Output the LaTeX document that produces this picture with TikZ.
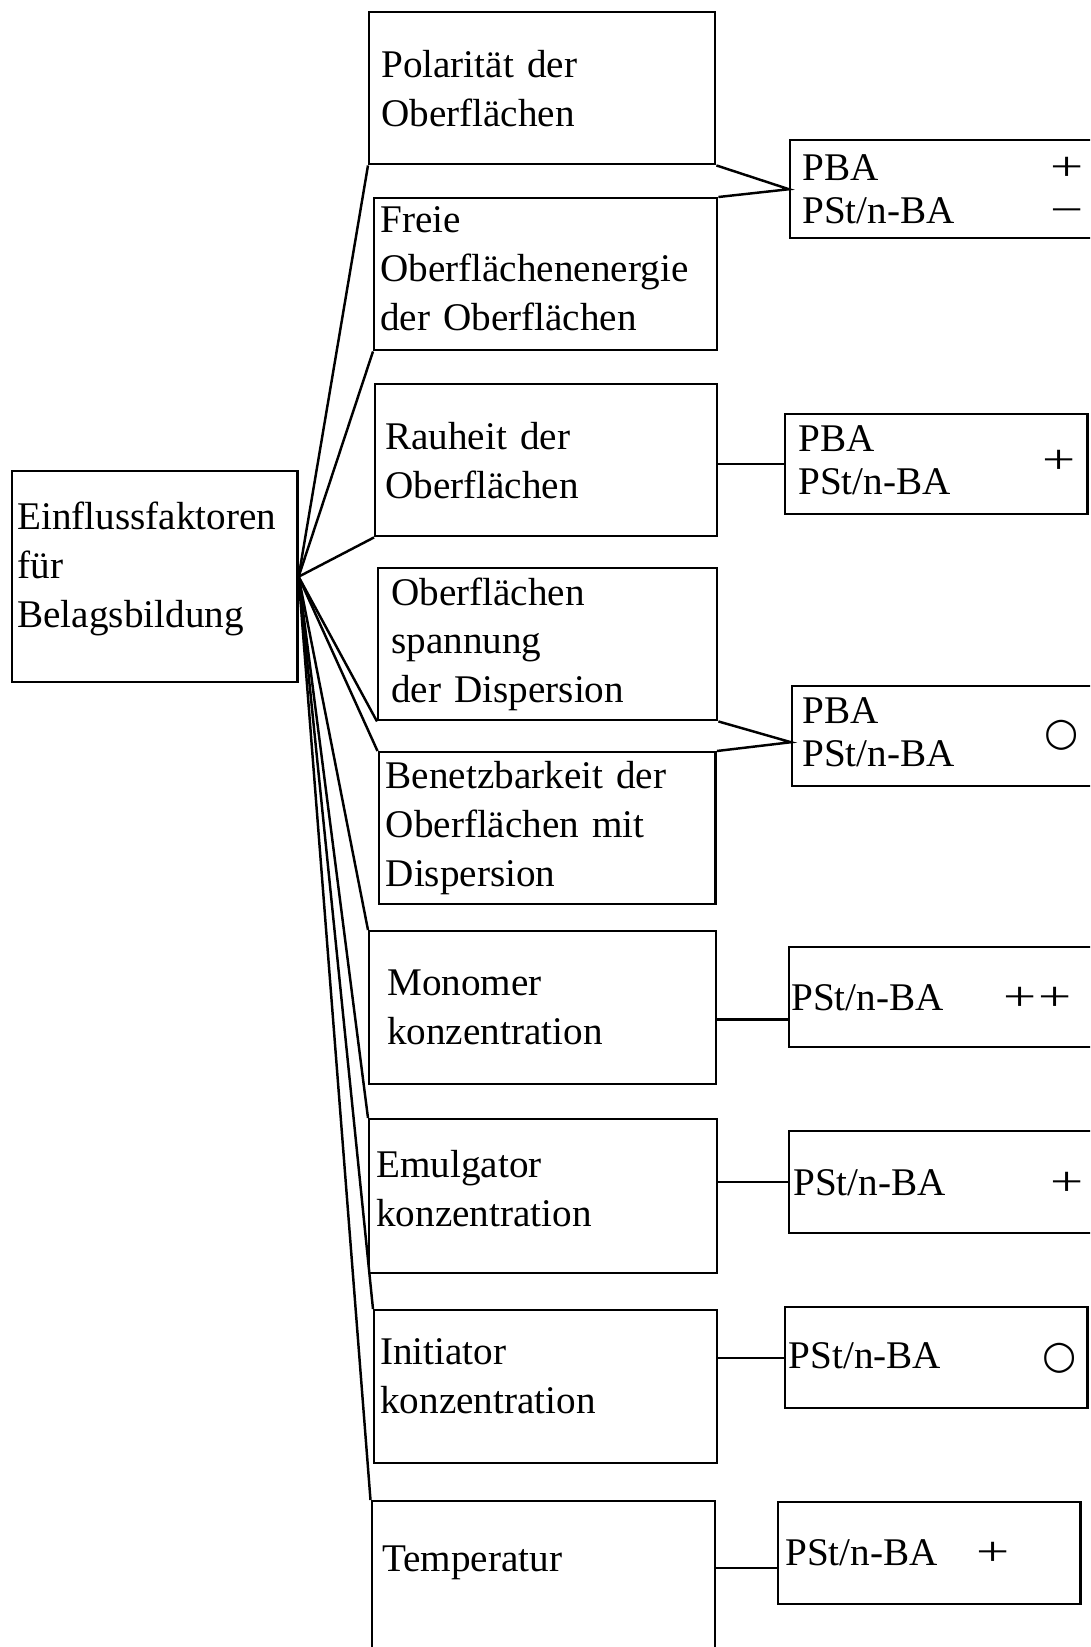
\documentclass[tikz,border=0pt]{standalone}
\usepackage{fontspec}
\setmainfont{Liberation Serif}
\newfontfamily\circfont{DejaVu Sans}
\usepackage{graphicx}
\usepackage{tikz}
\usetikzlibrary{positioning}

\newcommand{\effplus}{\scalebox{1.5}[1.05]{+}}
\newcommand{\effminus}{\scalebox{1.5}[1.05]{−}}
\newcommand{\effnone}{{\circfont ○}}

\begin{document}
\begin{tikzpicture}[
    x=0.02cm, y=-0.02cm,
    box/.style={draw, line width=1.4pt, anchor=north west, align=left, inner ysep=0pt, font=\fontsize{22.3pt}{27.8pt}\selectfont},
    mid/.style={box, minimum height=3.04cm},
    res/.style={box, font=\fontsize{22.3pt}{24.5pt}\selectfont},
    link/.style={line width=1.4pt}
]
\useasboundingbox (0,0) rectangle (1090,1647);
\clip (0,0) rectangle (1090,1647);

% Root
\node[box, minimum height=4.22cm, inner xsep=0.11cm, text width=5.49cm, text depth=2.43cm] (root) at (10.7,470) {Einflussfaktoren\\für\\Belagsbildung};

% Factors
\node[mid, inner xsep=0.24cm, text width=6.44cm] (polar) at (368,11) {Polarität der\\Oberflächen};
\node[mid, inner xsep=0.12cm, text width=6.62cm, text depth=2.17cm] (energy) at (373,197) {Freie\\Oberflächenenergie\\der Oberflächen};
\node[mid, inner xsep=0.2cm, text width=6.44cm] (rough) at (374,383) {Rauheit der\\Oberflächen};
\node[mid, inner xsep=0.26cm, text width=6.26cm] (tension) at (377,567) {Oberflächen\\spannung\\der Dispersion};
\node[mid, inner xsep=0.14cm, text width=6.46cm] (wetting) at (377.5,751) {Benetzbarkeit der\\Oberflächen mit\\Dispersion};
\node[mid, minimum height=3.06cm, inner xsep=0.36cm, text width=6.22cm] (monomer) at (368,930) {Monomer\\konzentration};
\node[mid, minimum height=3.08cm, inner xsep=0.14cm, text width=6.68cm, text depth=1.29cm] (emulsifier) at (368,1118) {Emulgator\\konzentration};
\node[mid, minimum height=3.06cm, inner xsep=0.12cm, text width=6.62cm, text depth=1.39cm] (initiator) at (373,1309) {Initiator\\konzentration};
\node[box, inner xsep=0.21cm, text width=6.45cm, text height=1.4cm, text depth=2cm] (temp) at (370.5,1500) {Temperatur};

% Effects
\node[res, minimum height=1.96cm, inner xsep=0.24cm, text width=5.94cm] (polres) at (789,139) {\makebox[4.97cm][l]{PBA}\effplus\\\makebox[4.97cm][l]{PSt/n-BA}\effminus};
\node[res, minimum height=2cm, inner xsep=0.26cm, text width=5.53cm] (roughres) at (784,413) {\makebox[4.89cm][l]{\begin{tabular}{@{}l@{}}PBA\\PSt/n-BA\end{tabular}}\effplus};
\node[res, minimum height=2cm, inner xsep=0.2cm, text width=5.98cm] (dispres) at (791,685) {\makebox[4.85cm][l]{\begin{tabular}{@{}l@{}}PBA\\PSt/n-BA\end{tabular}}\effnone};
\node[res, minimum height=2cm, inner xsep=0.05cm, text width=6.35cm] (monores) at (787.6,946) {\makebox[4.24cm][l]{PSt/n-BA}\effplus\hspace{0.05cm}\effplus};
\node[res, minimum height=2.04cm, inner xsep=0.09cm, text width=6.27cm] (emulres) at (787.6,1130) {\makebox[5.15cm][l]{PSt/n-BA}\effplus};
\node[res, minimum height=2.02cm, inner xsep=0.08cm, text width=5.9cm] (initres) at (783.5,1306) {\makebox[5.07cm][l]{PSt/n-BA}\effnone};
\node[res, minimum height=2.04cm, inner xsep=0.15cm, text width=5.76cm] (tempres) at (776.5,1500.7) {\makebox[3.83cm][l]{PSt/n-BA}\effplus};

% Fan from root
\foreach \target in {polar.south west, energy.south west, rough.south west, tension.south west, wetting.north west, monomer.north west, emulsifier.north west, initiator.north west, temp.north west}
    \draw[link] (root.east) -- (\target);

% Links to effects
\coordinate (monolink) at ([yshift=-0.45cm]monores.west);
\coordinate (templink) at ([yshift=-0.3cm]tempres.west);
\draw[link] (polar.south east) -- (polres.west) -- (energy.north east);
\draw[link] (roughres.west -| rough.east) -- (roughres.west);
\draw[link] (tension.south east) -- ([yshift=-0.12cm]dispres.west) -- (wetting.north east);
\draw[link] (monolink -| monomer.east) -- (monolink);
\draw[link] (emulres.west -| emulsifier.east) -- (emulres.west);
\draw[link] (initres.west -| initiator.east) -- (initres.west);
\draw[link] (templink -| temp.east) -- (templink);

\end{tikzpicture}
\end{document}
